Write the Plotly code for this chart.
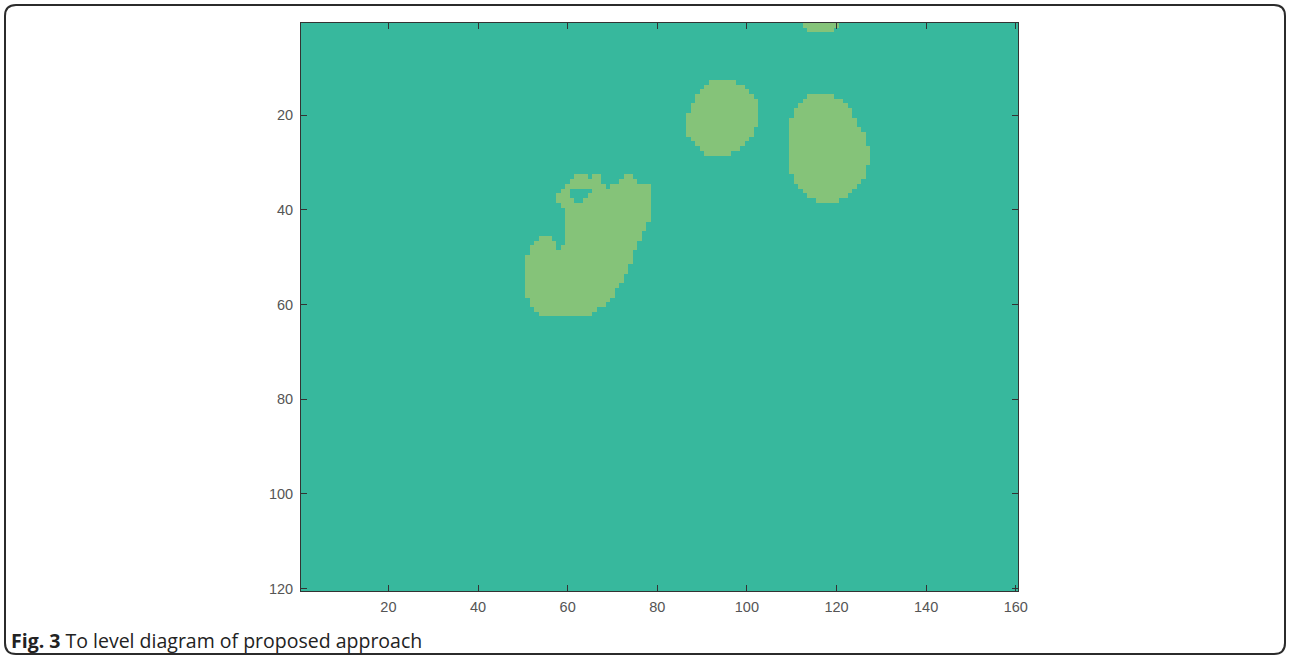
import numpy as np
import plotly.graph_objects as go

# Image grid size (columns x rows)
n_cols = 160
n_rows = 120

# Level regions: row -> list of (first_col, last_col) runs
blob_left = {
    33: [(62, 64), (66, 67), (73, 74)],
    34: [(61, 67), (72, 75)],
    35: [(60, 68), (70, 78)],
    36: [(59, 60), (66, 78)],
    37: [(58, 60), (65, 78)],
    38: [(58, 61), (64, 78)],
    39: [(59, 78)],
    40: [(60, 78)],
    41: [(60, 78)],
    42: [(60, 78)],
    43: [(60, 77)],
    44: [(60, 77)],
    45: [(60, 76)],
    46: [(54, 56), (60, 76)],
    47: [(53, 57), (60, 75)],
    48: [(52, 57), (59, 75)],
    49: [(52, 58), (59, 74)],
    50: [(51, 74)],
    51: [(51, 74)],
    52: [(51, 73)],
    53: [(51, 73)],
    54: [(51, 72)],
    55: [(51, 72)],
    56: [(51, 71)],
    57: [(51, 70)],
    58: [(51, 70)],
    59: [(52, 69)],
    60: [(52, 68)],
    61: [(53, 66)],
    62: [(54, 65)],
}

blob_mid = {
    13: [(92, 97)],
    14: [(91, 99)],
    15: [(90, 100)],
    16: [(89, 101)],
    17: [(89, 102)],
    18: [(88, 102)],
    19: [(88, 102)],
    20: [(87, 102)],
    21: [(87, 102)],
    22: [(87, 102)],
    23: [(87, 101)],
    24: [(87, 101)],
    25: [(88, 100)],
    26: [(89, 99)],
    27: [(90, 98)],
    28: [(91, 96)],
}

blob_right = {
    16: [(114, 119)],
    17: [(113, 121)],
    18: [(112, 122)],
    19: [(111, 123)],
    20: [(111, 123)],
    21: [(110, 124)],
    22: [(110, 124)],
    23: [(110, 125)],
    24: [(110, 126)],
    25: [(110, 126)],
    26: [(110, 126)],
    27: [(110, 127)],
    28: [(110, 127)],
    29: [(110, 127)],
    30: [(110, 127)],
    31: [(110, 126)],
    32: [(110, 126)],
    33: [(111, 126)],
    34: [(111, 125)],
    35: [(112, 124)],
    36: [(113, 123)],
    37: [(114, 122)],
    38: [(116, 120)],
}

blob_top = {
    1: [(113, 120)],
    2: [(114, 119)],
}

x_ticks = [20, 40, 60, 80, 100, 120, 140, 160]
y_ticks = [20, 40, 60, 80, 100, 120]
caption_bold = "Fig. 3"
caption_text = "To level diagram of proposed approach"

# Build the level image
z = np.zeros((n_rows, n_cols))
for blob in (blob_left, blob_mid, blob_right, blob_top):
    for r, runs in blob.items():
        for c0, c1 in runs:
            z[r - 1, c0 - 1:c1] = 1

x = np.arange(1, n_cols + 1)
y = np.arange(1, n_rows + 1)

teal = "rgb(55,184,157)"
green = "rgb(133,195,121)"

fig = go.Figure(go.Heatmap(
    z=z, x=x, y=y,
    colorscale=[[0, teal], [1, green]],
    zmin=0, zmax=1, showscale=False, zsmooth=False, hoverinfo="skip",
))

axis_common = dict(
    showgrid=False, zeroline=False, showline=True, linecolor="#333333",
    linewidth=1, mirror="ticks", ticks="inside", ticklen=6, tickcolor="#333333",
    tickfont=dict(family="Liberation Sans, Arial", size=14.5, color="#555555"),
)

fig.update_xaxes(range=[0.5, n_cols + 0.5], tickvals=x_ticks,
                 ticklabelstandoff=3, **axis_common)
fig.update_yaxes(range=[n_rows + 0.5, 0.5], tickvals=y_ticks,
                 ticklabelstandoff=4, **axis_common)

L, R, T, B = 301, 1018, 23, 591
W, H = 1290, 659


def px_x(p):
    return (p - L) / (R - L)


def px_y(p):
    return (B - p) / (B - T)


# Rounded frame around the whole figure
x0, x1, y0, y1, rad = 5, 1285, 5, 654, 11
path = (
    f"M {px_x(x0 + rad)},{px_y(y0)} L {px_x(x1 - rad)},{px_y(y0)} "
    f"Q {px_x(x1)},{px_y(y0)} {px_x(x1)},{px_y(y0 + rad)} "
    f"L {px_x(x1)},{px_y(y1 - rad)} "
    f"Q {px_x(x1)},{px_y(y1)} {px_x(x1 - rad)},{px_y(y1)} "
    f"L {px_x(x0 + rad)},{px_y(y1)} "
    f"Q {px_x(x0)},{px_y(y1)} {px_x(x0)},{px_y(y1 - rad)} "
    f"L {px_x(x0)},{px_y(y0 + rad)} "
    f"Q {px_x(x0)},{px_y(y0)} {px_x(x0 + rad)},{px_y(y0)} Z"
)
fig.add_shape(type="path", path=path, xref="paper", yref="paper",
              line=dict(color="#2b2b2b", width=2), layer="below")

fig.add_annotation(
    x=px_x(9), y=px_y(640), xref="paper", yref="paper",
    xanchor="left", yanchor="middle", showarrow=False,
    text=f"<b>{caption_bold}</b> {caption_text}",
    font=dict(family="Open Sans", size=19.5, color="#222222"),
)

fig.update_layout(
    width=W, height=H, autosize=False,
    margin=dict(l=L, r=W - R, t=T, b=H - B, pad=0),
    paper_bgcolor="white", plot_bgcolor="white",
)

fig.write_html(
    "out.html",
    config={"displayModeBar": False},
    post_script="document.body.style.margin='0';document.body.style.overflow='hidden';",
)
